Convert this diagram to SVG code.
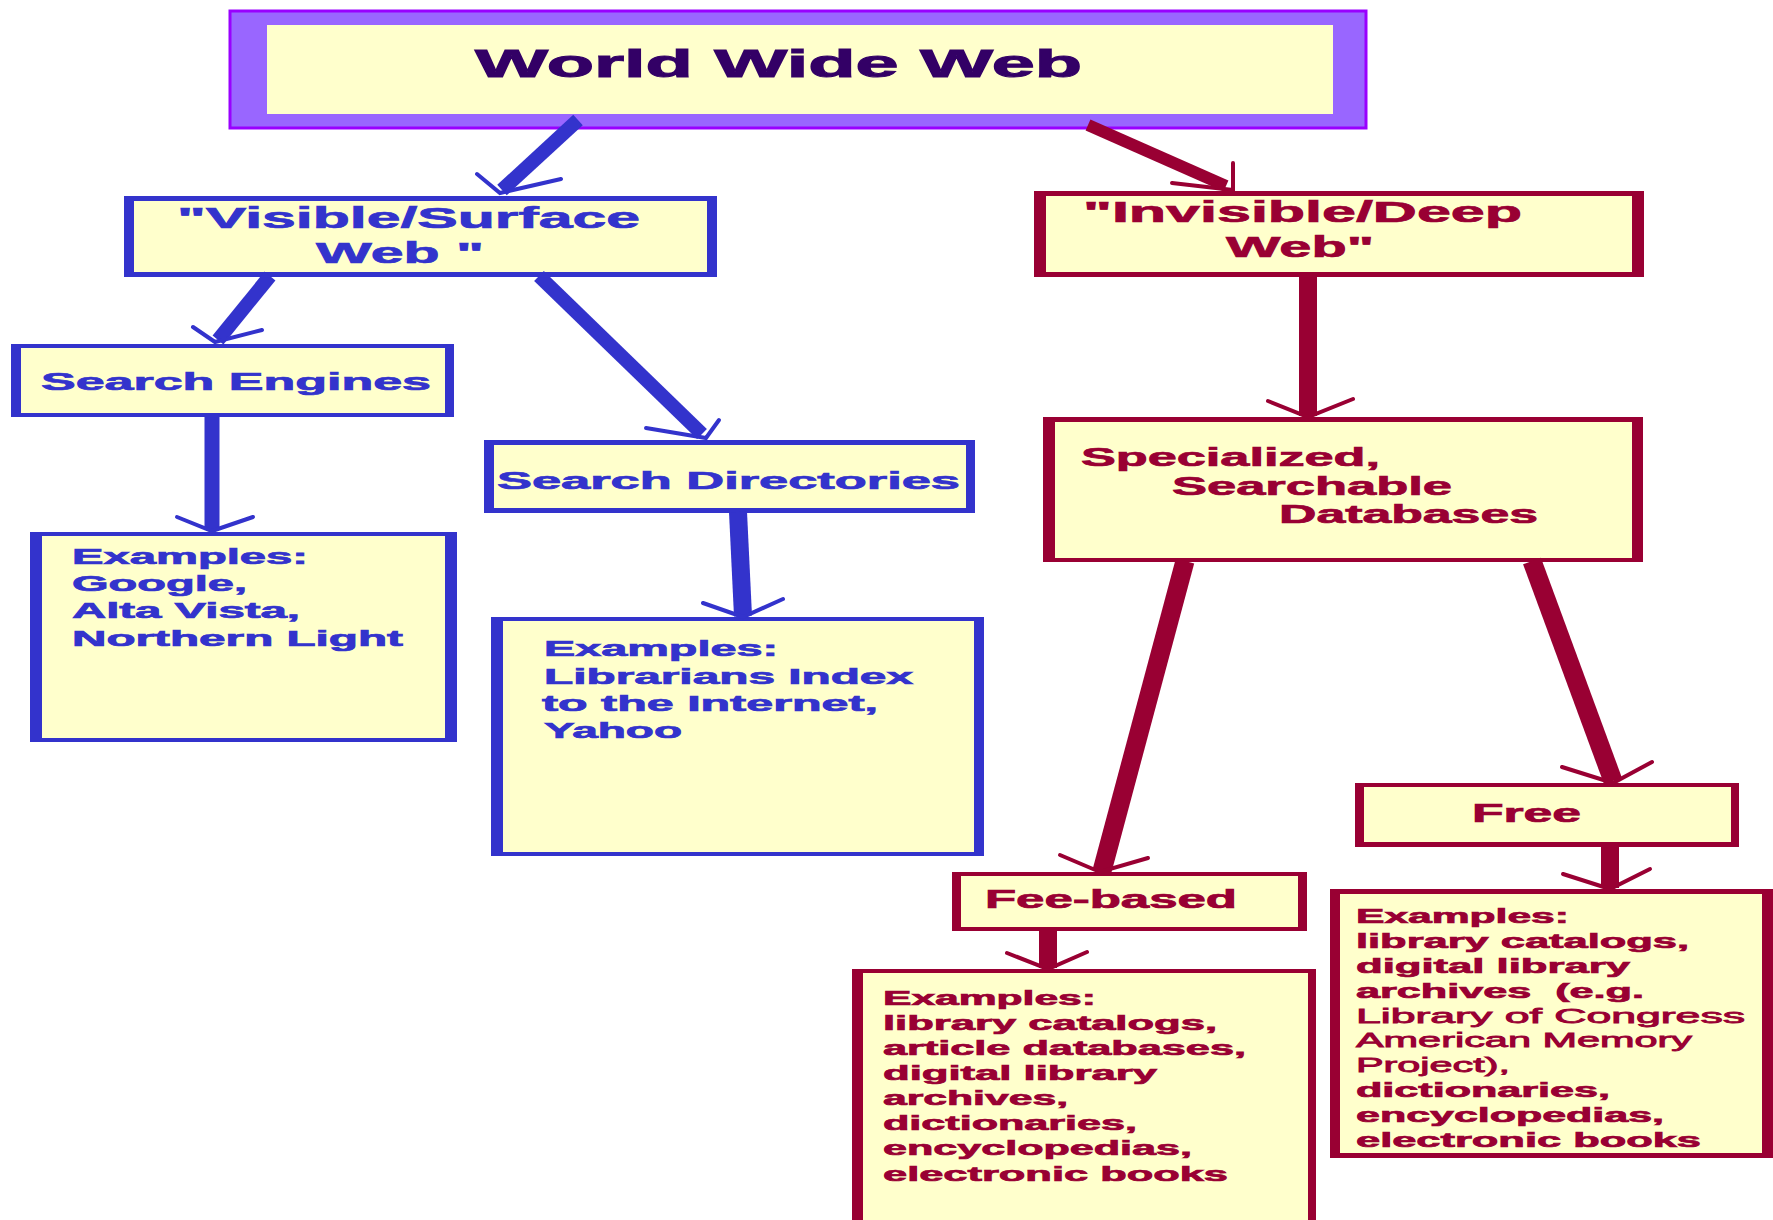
<svg xmlns="http://www.w3.org/2000/svg" width="1773" height="1220" viewBox="0 0 1773 1220">
<style>
text{font-family:"Liberation Sans",Arial,Helvetica,sans-serif;font-weight:bold}
.bt{fill:#3333cc;stroke:#3333cc;stroke-width:0.7}
.rt{fill:#990033;stroke:#990033;stroke-width:0.7}
.tt{fill:#330066;stroke:#330066;stroke-width:1}
.bb{fill:#3333cc}
.rb{fill:#990033}
.in{fill:#ffffcc}
.sb{stroke:#3333cc;fill:none}
.sr{stroke:#990033;fill:none}
.ab{stroke:#3333cc;stroke-width:4;stroke-linecap:round;fill:none}
.ar{stroke:#990033;stroke-width:4;stroke-linecap:round;fill:none}
.nw{font-weight:normal;stroke-width:0.8}
</style>
<rect width="1773" height="1220" fill="#ffffff"/>

<g id="www">
<rect x="230" y="11" width="1136" height="117" fill="#9966ff" stroke="#9900ff" stroke-width="3"/>
<rect class="in" x="267" y="25" width="1066" height="89"/>
<text class="tt" x="475" y="77" font-size="38" textLength="607" lengthAdjust="spacingAndGlyphs">World Wide Web</text>
</g>

<g id="visible">
<rect class="bb" x="124" y="196" width="593" height="81"/>
<rect class="in" x="134" y="201" width="573" height="71"/>
<text class="bt" x="177" y="228" font-size="30" textLength="463" lengthAdjust="spacingAndGlyphs">"Visible/Surface</text>
<text class="bt" x="316" y="263" font-size="30" textLength="168" lengthAdjust="spacingAndGlyphs">Web "</text>
</g>

<g id="search-engines">
<rect class="bb" x="11" y="344" width="443" height="73"/>
<rect class="in" x="21" y="348" width="424" height="65"/>
<text class="bt" x="41" y="390" font-size="24" textLength="390" lengthAdjust="spacingAndGlyphs">Search Engines</text>
</g>

<g id="search-directories">
<rect class="bb" x="484" y="440" width="491" height="73"/>
<rect class="in" x="494" y="445" width="472" height="63"/>
<text class="bt" x="497" y="489" font-size="24" textLength="463" lengthAdjust="spacingAndGlyphs">Search Directories</text>
</g>

<g id="examples-engines">
<rect class="bb" x="30" y="532" width="427" height="210"/>
<rect class="in" x="42" y="536" width="403" height="202"/>
<text class="bt" font-size="22">
<tspan x="72" y="564" textLength="236" lengthAdjust="spacingAndGlyphs">Examples:</tspan>
<tspan x="72" y="591" textLength="175" lengthAdjust="spacingAndGlyphs">Google,</tspan>
<tspan x="72" y="618" textLength="228" lengthAdjust="spacingAndGlyphs">Alta Vista,</tspan>
<tspan x="72" y="646" textLength="331" lengthAdjust="spacingAndGlyphs">Northern Light</tspan>
</text>
</g>

<g id="examples-directories">
<rect class="bb" x="491" y="617" width="493" height="239"/>
<rect class="in" x="503" y="621" width="471" height="231"/>
<text class="bt" font-size="22">
<tspan x="544" y="656" textLength="234" lengthAdjust="spacingAndGlyphs">Examples:</tspan>
<tspan x="544" y="684" textLength="369" lengthAdjust="spacingAndGlyphs">Librarians Index</tspan>
<tspan x="542" y="711" textLength="336" lengthAdjust="spacingAndGlyphs">to the Internet,</tspan>
<tspan x="544" y="738" textLength="138" lengthAdjust="spacingAndGlyphs">Yahoo</tspan>
</text>
</g>

<g id="invisible">
<rect class="rb" x="1034" y="191" width="610" height="86"/>
<rect class="in" x="1046" y="196" width="586" height="76"/>
<text class="rt" x="1083" y="222" font-size="29" textLength="439" lengthAdjust="spacingAndGlyphs">"Invisible/Deep</text>
<text class="rt" x="1226" y="257" font-size="29" textLength="148" lengthAdjust="spacingAndGlyphs">Web"</text>
</g>

<g id="specialized">
<rect class="rb" x="1043" y="417" width="600" height="145"/>
<rect class="in" x="1055" y="422" width="577" height="136"/>
<text class="rt" x="1081" y="466" font-size="26" textLength="299" lengthAdjust="spacingAndGlyphs">Specialized,</text>
<text class="rt" x="1172" y="495" font-size="26" textLength="280" lengthAdjust="spacingAndGlyphs">Searchable</text>
<text class="rt" x="1279" y="523" font-size="26" textLength="259" lengthAdjust="spacingAndGlyphs">Databases</text>
</g>

<g id="fee-based">
<rect class="rb" x="952" y="872" width="355" height="59"/>
<rect class="in" x="961" y="876" width="337" height="51"/>
<text class="rt" x="985" y="908" font-size="25" textLength="252" lengthAdjust="spacingAndGlyphs">Fee-based</text>
</g>

<g id="free">
<rect class="rb" x="1355" y="783" width="384" height="64"/>
<rect class="in" x="1364" y="787" width="367" height="55"/>
<text class="rt" x="1472" y="822" font-size="25" textLength="109" lengthAdjust="spacingAndGlyphs">Free</text>
</g>

<g id="examples-fee">
<rect class="rb" x="852" y="969" width="464" height="260"/>
<rect class="in" x="863" y="973" width="445" height="260"/>
<text class="rt" font-size="20">
<tspan x="883" y="1005" textLength="213" lengthAdjust="spacingAndGlyphs">Examples:</tspan>
<tspan x="883" y="1030" textLength="334" lengthAdjust="spacingAndGlyphs">library catalogs,</tspan>
<tspan x="883" y="1055" textLength="363" lengthAdjust="spacingAndGlyphs">article databases,</tspan>
<tspan x="883" y="1080" textLength="274" lengthAdjust="spacingAndGlyphs">digital library</tspan>
<tspan x="883" y="1105" textLength="185" lengthAdjust="spacingAndGlyphs">archives,</tspan>
<tspan x="883" y="1130" textLength="254" lengthAdjust="spacingAndGlyphs">dictionaries,</tspan>
<tspan x="883" y="1155" textLength="309" lengthAdjust="spacingAndGlyphs">encyclopedias,</tspan>
<tspan x="883" y="1181" textLength="345" lengthAdjust="spacingAndGlyphs">electronic books</tspan>
</text>
</g>

<g id="examples-free">
<rect class="rb" x="1330" y="889" width="443" height="269"/>
<rect class="in" x="1340" y="894" width="422" height="259"/>
<text class="rt" font-size="20">
<tspan x="1356" y="923" textLength="213" lengthAdjust="spacingAndGlyphs">Examples:</tspan>
<tspan x="1356" y="948" textLength="333" lengthAdjust="spacingAndGlyphs">library catalogs,</tspan>
<tspan x="1356" y="973" textLength="274" lengthAdjust="spacingAndGlyphs">digital library</tspan>
<tspan x="1356" y="998" textLength="288" lengthAdjust="spacingAndGlyphs" xml:space="preserve">archives  (e.g.</tspan>
<tspan class="nw" x="1356" y="1023" textLength="389" lengthAdjust="spacingAndGlyphs">Library of Congress</tspan>
<tspan class="nw" x="1356" y="1047" textLength="336" lengthAdjust="spacingAndGlyphs">American Memory</tspan>
<tspan class="nw" x="1356" y="1072" textLength="154" lengthAdjust="spacingAndGlyphs">Project),</tspan>
<tspan x="1356" y="1097" textLength="254" lengthAdjust="spacingAndGlyphs">dictionaries,</tspan>
<tspan x="1356" y="1122" textLength="308" lengthAdjust="spacingAndGlyphs">encyclopedias,</tspan>
<tspan x="1356" y="1147" textLength="345" lengthAdjust="spacingAndGlyphs">electronic books</tspan>
</text>
</g>

<g id="connectors">
<!-- WWW -> Visible -->
<line class="sb" stroke-width="14" x1="578" y1="120" x2="502" y2="190"/>
<polyline class="ab" points="477,174 500,193 561,179"/>
<!-- WWW -> Invisible -->
<line class="sr" stroke-width="12" x1="1088" y1="125" x2="1226" y2="186"/>
<polyline class="ar" points="1233,163 1233,190 1172,183"/>
<!-- Visible -> Search Engines -->
<line class="sb" stroke-width="14" x1="270" y1="276" x2="218" y2="340"/>
<polyline class="ab" points="193,327 215,342 262,330"/>
<!-- Visible -> Search Directories -->
<line class="sb" stroke-width="14" x1="539" y1="276" x2="702" y2="434"/>
<polyline class="ab" points="646,428 706,438 719,420"/>
<!-- Search Engines -> Examples -->
<line class="sb" stroke-width="15" x1="212" y1="416" x2="212" y2="530"/>
<polyline class="ab" points="177,517 212,531 253,517"/>
<!-- Search Directories -> Examples -->
<line class="sb" stroke-width="18" x1="738" y1="512" x2="743" y2="616"/>
<polyline class="ab" points="703,603 743,617 783,599"/>
<!-- Invisible -> Specialized -->
<line class="sr" stroke-width="18" x1="1308" y1="276" x2="1308" y2="416"/>
<polyline class="ar" points="1268,401 1308,417 1353,399"/>
<!-- Specialized -> Fee-based -->
<line class="sr" stroke-width="19" x1="1185" y1="561" x2="1102" y2="871"/>
<polyline class="ar" points="1060,855 1100,872 1148,858"/>
<!-- Specialized -> Free -->
<line class="sr" stroke-width="19" x1="1532" y1="561" x2="1613" y2="781"/>
<polyline class="ar" points="1562,767 1613,783 1652,762"/>
<!-- Fee-based -> Examples -->
<line class="sr" stroke-width="18" x1="1048" y1="930" x2="1048" y2="968"/>
<polyline class="ar" points="1007,953 1048,969 1087,952"/>
<!-- Free -> Examples -->
<line class="sr" stroke-width="18" x1="1610" y1="846" x2="1610" y2="888"/>
<polyline class="ar" points="1563,874 1610,889 1650,869"/>
</g>
</svg>
